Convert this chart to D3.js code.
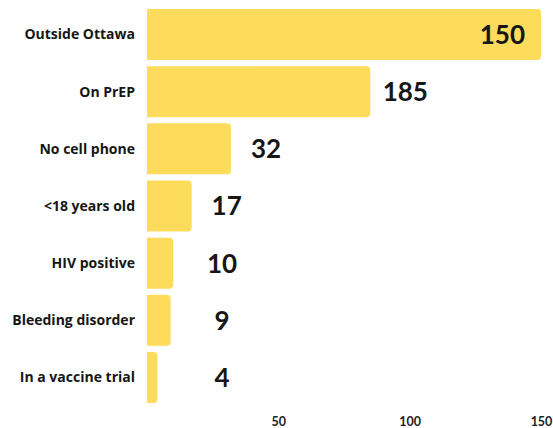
<!DOCTYPE html>
<html>
<head>
<meta charset="utf-8">
<script src="https://cdn.jsdelivr.net/npm/d3@7"></script>
<style>
  html, body { margin: 0; padding: 0; background: #ffffff; }
  svg { display: block; }
</style>
</head>
<body>
<svg id="chart" width="553" height="428"></svg>
<script>
// ---- data ----
const categories = ["Outside Ottawa", "On PrEP", "No cell phone", "<18 years old", "HIV positive", "Bleeding disorder", "In a vaccine trial"];
const barValues = [150, 85, 32, 17, 10, 9, 4];
const valueLabels = ["150", "185", "32", "17", "10", "9", "4"];
const tickValues = [50, 100, 150];

// ---- layout ----
const W = 553, H = 428;
const x0 = 147, x1 = 541;
const fontFamily = "Lato, 'Open Sans', sans-serif";
const labelFont = "'Open Sans', Lato, sans-serif";
const barColor = "#FDDB5B";
const textColor = "#161616";

const svg = d3.select("#chart");

const x = d3.scaleLinear().domain([0, 150]).range([x0, x1]);
const y = d3.scaleBand().domain(categories).range([9, 403]).paddingInner(0.108).paddingOuter(0);

const data = categories.map((c, i) => ({ cat: c, v: barValues[i], label: valueLabels[i] }));

function barPath(xs, xe, ys, h, r) {
  r = Math.min(r, (xe - xs) / 2, h / 2);
  return `M${xs},${ys}H${xe - r}Q${xe},${ys} ${xe},${ys + r}V${ys + h - r}Q${xe},${ys + h} ${xe - r},${ys + h}H${xs}Z`;
}

svg.append("g").selectAll("path")
  .data(data)
  .join("path")
  .attr("d", d => barPath(x(0), x(d.v), y(d.cat), y.bandwidth(), 4))
  .attr("fill", barColor);

// category labels
svg.append("g").selectAll("text")
  .data(data)
  .join("text")
  .attr("x", 135)
  .attr("y", d => y(d.cat) + y.bandwidth() / 2)
  .attr("dy", "0.35em")
  .attr("text-anchor", "end")
  .attr("font-family", labelFont)
  .attr("font-weight", 700)
  .attr("font-size", 14)
  .attr("fill", textColor)
  .text(d => d.cat);

// value labels
svg.append("g").selectAll("text")
  .data(data)
  .join("text")
  .attr("x", d => {
    const xe = x(d.v);
    if (xe + 60 > W) return xe - 16;
    return Math.max(xe + 35, 222);
  })
  .attr("text-anchor", d => (x(d.v) + 60 > W ? "end" : "middle"))
  .attr("y", d => y(d.cat) + y.bandwidth() / 2)
  .attr("dy", "0.36em")
  .attr("font-family", fontFamily)
  .attr("font-weight", 700)
  .attr("font-size", 26)
  .attr("fill", textColor)
  .text(d => d.label);

// x axis
const axis = d3.axisBottom(x).tickValues(tickValues).tickSize(0).tickPadding(0).tickFormat(d3.format("d"));
const gAxis = svg.append("g").attr("transform", "translate(0,416)").call(axis);
gAxis.select(".domain").remove();
gAxis.selectAll("text")
  .attr("font-family", fontFamily)
  .attr("font-weight", 700)
  .attr("font-size", 12.5)
  .attr("fill", "#222")
  .attr("dy", "0.35em")
  .attr("y", 6);
</script>
</body>
</html>
